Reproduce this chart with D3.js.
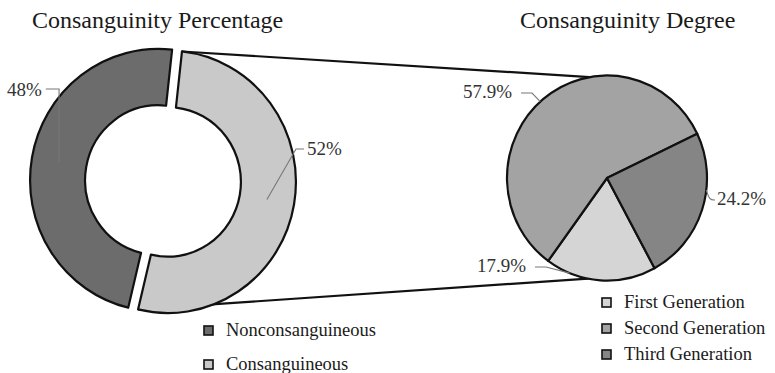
<!DOCTYPE html>
<html>
<head>
<meta charset="utf-8">
<script src="https://cdn.jsdelivr.net/npm/d3@7"></script>
<style>
  html, body { margin: 0; padding: 0; background: #fff; }
  svg { display: block; font-family: "Liberation Serif", "Times New Roman", serif; }
</style>
</head>
<body>
<svg id="chart" width="775" height="373"></svg>
<script>
// Consanguinity percentage (donut)
const statusNames = ["Nonconsanguineous", "Consanguineous"];
const statusValues = [48, 52];
const statusLabels = ["48%", "52%"];
const statusColors = ["#6c6c6c", "#c9c9c9"];

// Consanguinity degree among consanguineous (pie)
const degreeNames = ["First Generation", "Second Generation", "Third Generation"];
const degreeValues = [17.9, 57.9, 24.2];
const degreeLabels = ["17.9%", "57.9%", "24.2%"];
const degreeColors = ["#d5d5d5", "#a3a3a3", "#858585"];

const titles = ["Consanguinity Percentage", "Consanguinity Degree"];

const svg = d3.select("#chart");
const rad = d => d * Math.PI / 180;
const sy = 1.025; // slight vertical stretch of both pies

// ---------- donut geometry ----------
const D = { cx: 163, cy: 181, r: 128, ri: 73, explode: 5, start: 193.5 };
const donutPie = d3.pie().sort(null).value(d => d)
  .startAngle(rad(D.start)).endAngle(rad(D.start + 360));
const donutArcs = donutPie(statusValues);
const donutArc = d3.arc().innerRadius(D.ri).outerRadius(D.r);
const offsetOf = a => {
  const m = (a.startAngle + a.endAngle) / 2;
  return [D.explode * Math.sin(m), -D.explode * Math.cos(m)];
};
// page coordinates of a point given in donut-local polar form
const donutPt = (a, ang, r) => {
  const [ox, oy] = offsetOf(a);
  return [D.cx + ox + r * Math.sin(ang), D.cy + (oy - r * Math.cos(ang)) * sy];
};

// ---------- pie geometry ----------
const P = { cx: 607, cy: 178, r: 100, start: 151.6 };
const degreePie = d3.pie().sort(null).value(d => d)
  .startAngle(rad(P.start)).endAngle(rad(P.start + 360));
const degreeArcs = degreePie(degreeValues);
const degreeArc = d3.arc().innerRadius(0).outerRadius(P.r);
const piePt = ang => [P.cx + P.r * Math.sin(ang), P.cy - P.r * Math.cos(ang) * sy];

// ---------- connectors from the consanguineous slice to the pie ----------
const cons = donutArcs[1];
const connectors = [
  [donutPt(cons, cons.startAngle, D.r), piePt(rad(350))],
  [donutPt(cons, cons.endAngle, D.r), piePt(rad(191))]
];
svg.append("g").selectAll("line").data(connectors).join("line")
  .attr("x1", d => d[0][0]).attr("y1", d => d[0][1])
  .attr("x2", d => d[1][0]).attr("y2", d => d[1][1])
  .attr("stroke", "#111").attr("stroke-width", 2.2);

// ---------- donut ----------
const gD = svg.append("g")
  .attr("transform", `translate(${D.cx},${D.cy}) scale(1,${sy})`);
gD.selectAll("path").data(donutArcs).join("path")
  .attr("d", donutArc)
  .attr("transform", d => `translate(${offsetOf(d)[0]},${offsetOf(d)[1]})`)
  .attr("fill", (d, i) => statusColors[i])
  .attr("stroke", "#111").attr("stroke-width", 2.2)
  .attr("stroke-linejoin", "round");

// ---------- pie ----------
const gP = svg.append("g")
  .attr("transform", `translate(${P.cx},${P.cy}) scale(1,${sy})`);
gP.selectAll("path").data(degreeArcs).join("path")
  .attr("d", degreeArc)
  .attr("fill", (d, i) => degreeColors[i])
  .attr("stroke", "#111").attr("stroke-width", 2.2)
  .attr("stroke-linejoin", "round");

// ---------- titles ----------
svg.append("g").selectAll("text").data(titles).join("text")
  .attr("x", (d, i) => [32, 520][i]).attr("y", 28)
  .attr("font-size", 24).attr("fill", "#1a1a1a")
  .text(d => d);

// ---------- value labels with leader lines ----------
const labelFont = 19;
const leader = svg.append("g").attr("fill", "none")
  .attr("stroke", "#777").attr("stroke-width", 1.1);
const labelG = svg.append("g").attr("font-size", labelFont).attr("fill", "#333");

// donut labels: leaders end at the slice centroids
const donutLabelPos = [
  { x: 7, y: 96, anchor: "start", elbowY: 89, side: -1 },
  { x: 307, y: 155, anchor: "start", elbowY: 149, side: 1 }
];
donutArcs.forEach((a, i) => {
  const m = (a.startAngle + a.endAngle) / 2;
  const c = donutPt(a, m, (D.r + D.ri) / 2);
  const L = donutLabelPos[i];
  const t = labelG.append("text").attr("x", L.x).attr("y", L.y)
    .attr("text-anchor", L.anchor).text(statusLabels[i]);
  if (i === 0) {
    const w = t.node().getComputedTextLength();
    leader.append("path").attr("d", d3.line()([[L.x + w + 4, L.elbowY], [c[0], L.elbowY], c]));
  } else {
    leader.append("path").attr("d", d3.line()([[L.x - 3, L.elbowY], [L.x - 11, L.elbowY], c]));
  }
});

// pie labels: leaders end on the rim inside each slice
const pieLabelPos = [
  { x: 526, y: 272, frac: 0.78, end: "right" },
  { x: 512, y: 98, frac: 0.49, end: "right" },
  { x: 717, y: 205, frac: 0.37, end: "left" }
];
degreeArcs.forEach((a, i) => {
  const L = pieLabelPos[i];
  const ang = a.startAngle + L.frac * (a.endAngle - a.startAngle);
  const p = piePt(ang);
  if (L.end === "right") {
    labelG.append("text").attr("x", L.x).attr("y", L.y)
      .attr("text-anchor", "end").text(degreeLabels[i]);
    const y0 = L.y - 5;
    leader.append("path").attr("d", d3.line()([[L.x + 9, y0], [L.x + 20, y0], p]));
  } else {
    labelG.append("text").attr("x", L.x).attr("y", L.y)
      .attr("text-anchor", "start").text(degreeLabels[i]);
    const y0 = L.y - 5;
    leader.append("path").attr("d", d3.line().curve(d3.curveBasis)([p, [p[0] + 3, y0], [L.x - 2, y0]]));
  }
});

// ---------- legends ----------
function legend(names, colors, x, y0, step) {
  const g = svg.append("g").attr("transform", `translate(${x},${y0})`);
  const row = g.selectAll("g").data(names).join("g")
    .attr("transform", (d, i) => `translate(0,${i * step})`);
  row.append("rect").attr("x", 0).attr("y", -10).attr("width", 9).attr("height", 9)
    .attr("fill", (d, i) => colors[i]).attr("stroke", "#111").attr("stroke-width", 1.6);
  row.append("text").attr("x", 22).attr("y", 0)
    .attr("font-size", 18.5).attr("fill", "#1a1a1a").text(d => d);
}
legend(statusNames, statusColors, 204, 336, 34);
legend(degreeNames, degreeColors, 602, 308, 26);
</script>
</body>
</html>
